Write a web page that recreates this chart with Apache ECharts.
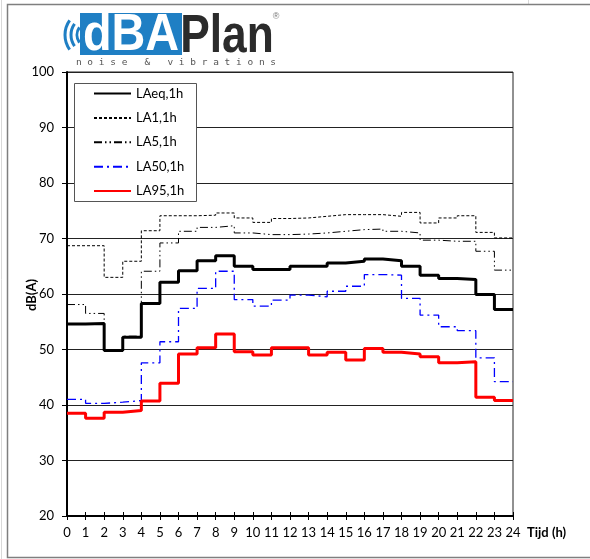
<!DOCTYPE html>
<html>
<head>
<meta charset="utf-8">
<script src="https://cdn.jsdelivr.net/npm/echarts@6/dist/echarts.min.js"></script>
<style>
html,body{margin:0;padding:0;background:#fff;}
#c{width:590px;height:559px;}
</style>
</head>
<body>
<div id="c"></div>
<script>
// ---- data (dB(A) per hour interval h..h+1) ----
const hours = [0,1,2,3,4,5,6,7,8,9,10,11,12,13,14,15,16,17,18,19,20,21,22,23];
const LAeq = [54.6,54.7,49.8,52.2,58.3,62.1,64.2,66.0,66.9,65.0,64.4,64.4,65.0,65.0,65.6,65.9,66.3,66.0,65.0,63.4,62.8,62.6,59.9,57.2];
const LA1  = [68.7,68.7,63.0,65.9,71.4,74.1,74.1,74.2,74.6,73.7,72.9,73.6,73.7,74.0,74.3,74.3,74.3,74.0,74.7,72.8,73.7,74.1,71.1,70.1];
const LA5  = [58.1,56.5,50.0,52.4,64.1,69.2,71.3,72.0,72.3,71.0,70.7,70.7,70.8,71.0,71.3,71.6,71.7,71.3,71.0,69.7,69.5,69.5,67.7,64.3];
const LA50 = [41.0,40.3,40.5,40.8,47.6,51.4,57.4,61.0,64.1,59.0,57.8,58.9,59.8,59.5,60.5,61.4,63.5,63.4,59.2,56.2,54.1,53.4,48.5,44.2];
const LA95 = [38.5,37.6,38.7,39.0,40.7,43.9,49.2,50.3,52.8,49.6,49.0,50.3,50.3,49.0,49.5,48.1,50.2,49.5,49.2,48.7,47.6,47.8,41.4,40.8];
const seriesNames = ['LAeq,1h','LA1,1h','LA5,1h','LA50,1h','LA95,1h'];
const xTickMin = 0, xTickMax = 24, yMin = 20, yMax = 100;

function steps(vals){
  const d = hours.map((h,i)=>[h, vals[i]]);
  d.push([hours[hours.length-1]+1, vals[vals.length-1]]);
  return d;
}

const FONT = 'Lato';
const chart = echarts.init(document.getElementById('c'), null, {renderer:'canvas'});

const axisBase = {type:'value', min:xTickMin, max:xTickMax, interval:1};

chart.setOption({
  animation:false,
  backgroundColor:'#ffffff',
  grid:{left:67, right:77, top:72, bottom:43, show:true, borderColor:'#222', borderWidth:1, backgroundColor:'transparent'},
  xAxis:[
    Object.assign({}, axisBase, {
      position:'bottom',
      axisLine:{show:true, onZero:false, lineStyle:{color:'#000', width:2}},
      axisTick:{show:true, inside:true, length:4, lineStyle:{color:'#000', width:1}},
      axisLabel:{show:true, margin:10, color:'#000', fontFamily:FONT, fontSize:13},
      splitLine:{show:false}
    }),
    Object.assign({}, axisBase, {
      position:'bottom',
      axisLine:{show:false},
      axisTick:{show:true, inside:false, length:4, lineStyle:{color:'#000', width:1}},
      axisLabel:{show:false},
      splitLine:{show:false}
    })
  ],
  yAxis:{
    type:'value', min:yMin, max:yMax, interval:10,
    axisLine:{show:true, lineStyle:{color:'#000', width:2}},
    axisTick:{show:true, inside:false, length:5, lineStyle:{color:'#000', width:1}},
    axisLabel:{margin:13, color:'#000', fontFamily:FONT, fontSize:13},
    splitLine:{show:true, lineStyle:{color:'#222', width:1}}
  },
  legend:{
    orient:'vertical', left:93, top:87, z:10, padding:0,
    itemWidth:37, itemHeight:14, itemGap:11.4,
    itemStyle:{color:'transparent', borderWidth:0, opacity:0},
    textStyle:{fontFamily:FONT, fontSize:13, color:'#000'},
    data:seriesNames
  },
  graphic:[
    // outer chart frame
    {type:'rect', z:-10, shape:{x:7.5, y:4.5, width:620, height:553}, style:{fill:'#fff', stroke:'#7f7f7f', lineWidth:1.5}},
    // excel cell lines outside frame
    {type:'line', z:-11, shape:{x1:1.5,y1:0,x2:1.5,y2:559}, style:{stroke:'#d9d9d9', lineWidth:1}},
    {type:'line', z:-11, shape:{x1:528.5,y1:0,x2:528.5,y2:4}, style:{stroke:'#d9d9d9', lineWidth:1}},
    // legend box
    {type:'rect', z:5, shape:{x:74.5, y:83.5, width:122, height:118}, style:{fill:'#fff', stroke:'#555', lineWidth:1}},
    // axis names
    {type:'text', z:5, x:32, y:295, rotation:Math.PI/2, style:{text:'dB(A)', fontFamily:FONT, fontWeight:'bold', fontSize:13, fill:'#000', align:'center', verticalAlign:'middle'}},
    {type:'text', z:5, x:527, y:533, style:{text:'Tijd (h)', fontFamily:FONT, fontWeight:'bold', fontSize:13, fill:'#000', align:'left', verticalAlign:'middle'}},
    // logo: sound waves
    {type:'arc', z:5, shape:{cx:90, cy:35, r:25, startAngle:Math.PI-0.62, endAngle:Math.PI+0.62}, style:{stroke:'#1f7fc4', lineWidth:3, fill:null}},
    {type:'arc', z:5, shape:{cx:90, cy:35, r:19, startAngle:Math.PI-0.62, endAngle:Math.PI+0.62}, style:{stroke:'#1f7fc4', lineWidth:3, fill:null}},
    {type:'arc', z:5, shape:{cx:90, cy:35, r:13, startAngle:Math.PI-0.62, endAngle:Math.PI+0.62}, style:{stroke:'#1f7fc4', lineWidth:3, fill:null}},
    // logo: blue block with dBA
    {type:'rect', z:5, shape:{x:80, y:13, width:102, height:42}, style:{fill:'#1f7fc4'}},
    {type:'text', z:6, x:131, y:62, scaleX:0.9, style:{text:'dBA', fontFamily:'Liberation Sans', fontWeight:'bold', fontSize:52, fill:'#fff', align:'center', verticalAlign:'bottom'}},
    {type:'text', z:6, x:227, y:64, scaleX:0.82, style:{text:'Plan', fontFamily:'Liberation Sans', fontWeight:'bold', fontSize:54, fill:'#2b2b2b', align:'center', verticalAlign:'bottom'}},
    {type:'text', z:6, x:276, y:17, style:{text:'®', fontFamily:'Liberation Sans', fontSize:9, fill:'#777', align:'center', verticalAlign:'middle'}},
    {type:'text', z:6, x:176, y:63, style:{text:'n o i s e   &   v i b r a t i o n s', fontFamily:'DejaVu Sans Mono', fontSize:9.5, fill:'#555', align:'center', verticalAlign:'middle'}}
  ],
  series:[
    {name:seriesNames[0], type:'line', step:'end', symbol:'none', data:steps(LAeq),
     lineStyle:{color:'#000', width:3}, itemStyle:{color:'#000'}},
    {name:seriesNames[1], type:'line', step:'end', symbol:'none', data:steps(LA1),
     lineStyle:{color:'#000', width:1, type:[3,2]}, itemStyle:{color:'#000'}},
    {name:seriesNames[2], type:'line', step:'end', symbol:'none', data:steps(LA5),
     lineStyle:{color:'#000', width:1, type:[8,3,1.5,3,1.5,3]}, itemStyle:{color:'#000'}},
    {name:seriesNames[3], type:'line', step:'end', symbol:'none', data:steps(LA50),
     lineStyle:{color:'#0000ff', width:1.3, type:[9,4,2,4]}, itemStyle:{color:'#0000ff'}},
    {name:seriesNames[4], type:'line', step:'end', symbol:'none', data:steps(LA95),
     lineStyle:{color:'#ff0000', width:3}, itemStyle:{color:'#ff0000'}}
  ]
});
</script>
</body>
</html>
